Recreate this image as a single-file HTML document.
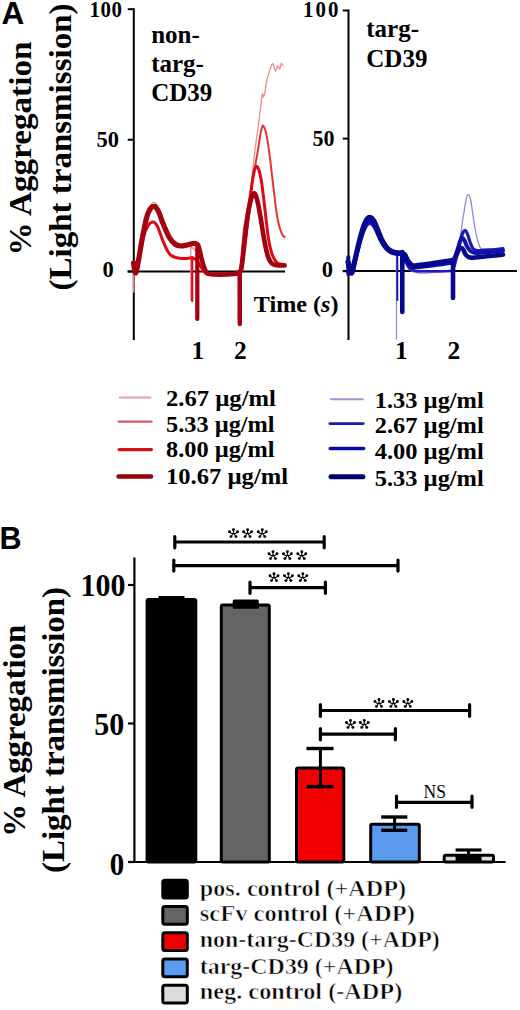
<!DOCTYPE html><html><head><meta charset="utf-8"><style>html,body{margin:0;padding:0;background:#fff;width:520px;height:1010px;overflow:hidden}svg{display:block}text{font-family:"Liberation Serif",serif;font-weight:bold;fill:#000}.sans{font-family:"Liberation Sans",sans-serif;font-weight:bold}</style></head><body>
<svg width="520" height="1010" viewBox="0 0 520 1010">
<rect width="520" height="1010" fill="#fff"/>
<text x="1.6" y="24.4" font-size="31.5" class="sans" >A</text>
<text transform="translate(31,148.6) rotate(-90)" x="0" y="0" font-size="32" text-anchor="middle" textLength="214" lengthAdjust="spacingAndGlyphs">% Aggregation</text>
<text transform="translate(70.8,147) rotate(-90)" x="0" y="0" font-size="32" text-anchor="middle" textLength="287" lengthAdjust="spacingAndGlyphs">(Light transmission)</text>
<line x1="133.8" y1="8.2" x2="133.8" y2="340" stroke="#000" stroke-width="2" stroke-linecap="butt"/>
<line x1="127.7" y1="9.2" x2="133.8" y2="9.2" stroke="#000" stroke-width="2" stroke-linecap="butt"/>
<line x1="127.7" y1="139.7" x2="133.8" y2="139.7" stroke="#000" stroke-width="2" stroke-linecap="butt"/>
<line x1="127.7" y1="271.5" x2="133.8" y2="271.5" stroke="#000" stroke-width="2" stroke-linecap="butt"/>
<line x1="127.7" y1="271.5" x2="285" y2="271.5" stroke="#000" stroke-width="2" stroke-linecap="butt"/>
<text transform="translate(122,17.3) scale(0.93,1)" x="0" y="0" font-size="22.5" text-anchor="end" textLength="34.95" lengthAdjust="spacing">100</text>
<text x="119" y="147" font-size="22.5" text-anchor="end" textLength="22.5" lengthAdjust="spacingAndGlyphs" >50</text>
<text x="113.8" y="277.4" font-size="22.5" text-anchor="end" >0</text>
<line x1="348.5" y1="9.5" x2="348.5" y2="340" stroke="#000" stroke-width="2" stroke-linecap="butt"/>
<line x1="342.8" y1="10.5" x2="348.5" y2="10.5" stroke="#000" stroke-width="2" stroke-linecap="butt"/>
<line x1="342.8" y1="138.6" x2="348.5" y2="138.6" stroke="#000" stroke-width="2" stroke-linecap="butt"/>
<line x1="342.8" y1="271.2" x2="348.5" y2="271.2" stroke="#000" stroke-width="2" stroke-linecap="butt"/>
<line x1="342.8" y1="271" x2="517" y2="271" stroke="#000" stroke-width="2" stroke-linecap="butt"/>
<text transform="translate(338.4,17.2) scale(0.93,1)" x="0" y="0" font-size="22.5" text-anchor="end" textLength="38.17" lengthAdjust="spacing">100</text>
<text x="334.5" y="146" font-size="22.5" text-anchor="end" textLength="22" lengthAdjust="spacingAndGlyphs" >50</text>
<text x="333" y="277.4" font-size="22.5" text-anchor="end" >0</text>
<text x="151.2" y="42.6" font-size="25" >non-</text>
<text x="151.2" y="72" font-size="25" >targ-</text>
<text x="151.2" y="101.4" font-size="25" >CD39</text>
<text x="366.3" y="37.2" font-size="25" >targ-</text>
<text x="366.3" y="67" font-size="25" >CD39</text>
<text x="253.8" y="312.3" font-size="24" textLength="84.7" lengthAdjust="spacingAndGlyphs">Time (<tspan font-style="italic">s</tspan>)</text>
<text x="191.5" y="358.6" font-size="25.5" >1</text>
<text x="234" y="358.6" font-size="25.5" >2</text>
<text x="395" y="358.9" font-size="25.5" >1</text>
<text x="447.5" y="358.9" font-size="25.5" >2</text>
<line x1="119.65" y1="397.5" x2="150.55" y2="397.5" stroke="#dca6ab" stroke-width="1.9" stroke-linecap="round"/>
<text x="166" y="406" font-size="24" textLength="109.8" lengthAdjust="spacingAndGlyphs" >2.67 µg/ml</text>
<line x1="118.65" y1="421.7" x2="151.54999999999998" y2="421.7" stroke="#d45a62" stroke-width="2.3" stroke-linecap="round"/>
<text x="166" y="431.5" font-size="24" textLength="108.6" lengthAdjust="spacingAndGlyphs" >5.33 µg/ml</text>
<line x1="119.15" y1="449.6" x2="151.35" y2="449.6" stroke="#d4101a" stroke-width="3.3" stroke-linecap="round"/>
<text x="166" y="457" font-size="24" textLength="108.6" lengthAdjust="spacingAndGlyphs" >8.00 µg/ml</text>
<line x1="118.6" y1="476.5" x2="151.0" y2="476.5" stroke="#960008" stroke-width="4.6" stroke-linecap="round"/>
<text x="166" y="483.8" font-size="24" textLength="122" lengthAdjust="spacingAndGlyphs" >10.67 µg/ml</text>
<line x1="330.95" y1="399.2" x2="362.85" y2="399.2" stroke="#9898d8" stroke-width="1.9" stroke-linecap="round"/>
<text x="374.8" y="407.9" font-size="24" textLength="108.9" lengthAdjust="spacingAndGlyphs" >1.33 µg/ml</text>
<line x1="329.8" y1="423.6" x2="363.3" y2="423.6" stroke="#1a1ab4" stroke-width="2.6" stroke-linecap="round"/>
<text x="374.8" y="432.9" font-size="24" textLength="108.9" lengthAdjust="spacingAndGlyphs" >2.67 µg/ml</text>
<line x1="330.3" y1="448.5" x2="363.59999999999997" y2="448.5" stroke="#0a0aaa" stroke-width="3.6" stroke-linecap="round"/>
<text x="374.8" y="458.8" font-size="24" textLength="108.9" lengthAdjust="spacingAndGlyphs" >4.00 µg/ml</text>
<line x1="331.0" y1="476.8" x2="362.9" y2="476.8" stroke="#00006e" stroke-width="5" stroke-linecap="round"/>
<text x="374.8" y="486.2" font-size="24" textLength="108.9" lengthAdjust="spacingAndGlyphs" >5.33 µg/ml</text>
<path d="M133.5,262.0 C133.8,263.7 134.8,272.2 135.6,272.0 C136.3,271.8 136.9,266.7 138.0,261.0 C139.1,255.3 140.6,245.7 142.0,238.0 C143.4,230.3 145.1,220.5 146.5,215.0 C147.9,209.5 149.1,207.1 150.5,205.0 C151.9,202.9 153.4,202.0 154.7,202.5 C156.0,203.0 157.1,205.1 158.5,208.0 C159.9,210.9 161.2,215.6 163.0,220.0 C164.8,224.4 167.5,230.9 169.6,234.5 C171.7,238.1 173.5,239.9 175.4,241.5 C177.3,243.1 179.1,243.3 181.0,244.0 C182.9,244.7 185.3,245.1 187.0,245.5 C188.7,245.9 190.3,246.3 191.0,246.5" fill="none" stroke="#ee8c8c" stroke-width="1.3" stroke-linejoin="round" stroke-linecap="round" />
<line x1="190.8" y1="246" x2="190.8" y2="300" stroke="#ee8c8c" stroke-width="1.3" stroke-linecap="round"/>
<line x1="133.8" y1="272" x2="133.8" y2="292" stroke="#ee8c8c" stroke-width="1.5" stroke-linecap="round"/>
<path d="M191.0,247.0 C191.7,247.5 193.5,248.2 195.0,250.0 C196.5,251.8 198.5,255.0 200.0,258.0 C201.5,261.0 202.7,265.4 204.0,268.0 C205.3,270.6 206.2,272.3 208.0,273.5 C209.8,274.7 210.3,274.8 215.0,275.0 C219.7,275.2 231.8,275.8 236.0,275.0 C240.2,274.2 238.8,272.8 240.0,270.0 C241.2,267.2 242.0,264.3 243.0,258.0 C244.0,251.7 244.8,242.2 246.0,232.0 C247.2,221.8 248.8,207.7 250.0,197.0 C251.2,186.3 252.1,176.5 253.0,168.0 C253.9,159.5 254.7,152.2 255.5,146.0 C256.3,139.8 256.8,137.1 257.7,130.7 C258.6,124.3 259.8,113.8 260.6,107.7 C261.4,101.6 261.8,95.8 262.3,94.0 C262.8,92.2 263.1,97.2 263.5,97.0 C263.9,96.8 264.2,95.8 264.8,93.0 C265.4,90.2 266.0,84.1 266.9,80.0 C267.8,75.9 269.4,71.2 270.4,68.5 C271.4,65.8 272.1,63.8 272.7,63.6 C273.3,63.4 273.7,66.2 274.2,67.5 C274.7,68.8 275.1,71.3 275.6,71.3 C276.1,71.3 276.5,68.4 277.0,67.5 C277.5,66.6 277.9,65.8 278.4,66.1 C278.8,66.3 279.2,69.4 279.7,69.0 C280.2,68.6 280.8,64.2 281.3,63.6 C281.9,63.0 282.7,65.3 283.0,65.6" fill="none" stroke="#ee8c8c" stroke-width="1.3" stroke-linejoin="round" stroke-linecap="round" />
<path d="M133.5,263.5 C133.8,265.2 134.8,273.5 135.6,273.5 C136.3,273.5 136.9,269.0 138.0,263.5 C139.1,258.0 140.6,248.0 142.0,240.5 C143.4,233.0 145.1,223.8 146.5,218.5 C147.9,213.2 149.1,210.9 150.5,209.0 C151.9,207.1 153.4,206.5 154.7,207.0 C156.0,207.5 157.1,209.2 158.5,212.0 C159.9,214.8 161.2,219.6 163.0,224.0 C164.8,228.4 167.5,235.0 169.6,238.5 C171.7,242.0 173.5,243.7 175.4,245.0 C177.3,246.3 179.1,246.4 181.0,246.5 C182.9,246.6 185.0,245.9 187.0,245.5 C189.0,245.1 191.4,244.2 193.0,244.0 C194.6,243.8 195.9,244.4 196.5,244.5" fill="none" stroke="#e63232" stroke-width="2" stroke-linejoin="round" stroke-linecap="round" />
<path d="M196.5,244.5 C196.8,244.8 197.8,244.1 198.5,246.0 C199.2,247.9 200.1,252.5 201.0,256.0 C201.9,259.5 202.9,264.1 204.0,267.0 C205.1,269.9 205.7,272.2 207.5,273.5 C209.3,274.8 212.1,274.3 215.0,274.5 C217.9,274.7 221.8,274.6 225.0,274.5 C228.2,274.4 231.8,274.2 234.0,274.0 C236.2,273.8 237.5,273.7 238.5,273.0 C239.5,272.3 239.4,273.8 240.0,270.0 C240.6,266.2 241.3,256.8 242.0,250.0 C242.7,243.2 243.1,235.8 244.0,229.0 C244.9,222.2 246.4,215.3 247.5,209.0 C248.6,202.7 249.5,197.3 250.6,191.0 C251.7,184.7 253.0,177.6 254.2,171.0 C255.4,164.4 256.7,157.7 257.7,151.7 C258.7,145.7 259.6,139.0 260.3,135.0 C261.0,131.0 261.5,129.0 262.0,127.5 C262.5,126.0 262.6,125.2 263.2,125.8 C263.8,126.4 264.8,128.0 265.6,131.0 C266.4,134.0 267.3,139.2 268.0,143.7 C268.7,148.2 269.3,152.7 270.0,158.0 C270.7,163.3 271.3,169.7 272.0,175.4 C272.7,181.1 273.3,186.5 274.0,192.0 C274.7,197.5 275.3,203.8 276.0,208.6 C276.7,213.4 277.2,217.3 278.0,221.0 C278.8,224.7 279.9,228.5 280.7,230.8 C281.4,233.1 281.9,233.9 282.5,235.0 C283.1,236.1 284.2,236.8 284.6,237.1" fill="none" stroke="#e63232" stroke-width="2" stroke-linejoin="round" stroke-linecap="round" />
<path d="M133.5,265.0 C133.9,266.2 135.0,273.7 136.0,272.0 C137.0,270.3 138.2,261.2 139.5,255.0 C140.8,248.8 142.5,240.0 144.0,235.0 C145.5,230.0 146.9,227.2 148.5,225.0 C150.1,222.8 151.9,221.9 153.3,222.0 C154.7,222.1 155.9,223.7 157.0,225.5 C158.1,227.3 159.0,230.4 160.0,233.0 C161.0,235.6 162.0,238.6 163.0,241.0 C164.0,243.4 164.9,245.6 165.8,247.5 C166.7,249.4 167.6,251.2 168.5,252.5 C169.4,253.8 170.2,254.8 171.5,255.6 C172.8,256.4 174.6,257.1 176.0,257.5 C177.4,257.9 178.5,258.1 180.0,258.3 C181.5,258.5 183.3,258.6 185.0,258.5 C186.7,258.4 188.8,258.1 190.0,258.0 C191.2,257.9 191.7,258.0 192.0,258.0" fill="none" stroke="#e00812" stroke-width="3" stroke-linejoin="round" stroke-linecap="round" />
<line x1="192.2" y1="257" x2="192.2" y2="301" stroke="#e00812" stroke-width="2.2" stroke-linecap="round"/>
<path d="M192.5,258.0 C192.9,258.2 194.1,258.3 195.0,259.0 C195.9,259.7 197.0,260.7 198.0,262.0 C199.0,263.3 199.8,265.2 201.0,267.0 C202.2,268.8 203.5,271.2 205.0,272.5 C206.5,273.8 204.8,274.2 210.0,274.5 C215.2,274.8 231.1,274.6 236.0,274.2 C240.9,273.8 238.5,274.0 239.5,272.0 C240.5,270.0 241.1,267.0 242.0,262.0 C242.9,257.0 243.8,250.7 245.0,242.0 C246.2,233.3 247.8,219.7 249.0,210.0 C250.2,200.3 251.1,190.7 252.0,184.0 C252.9,177.3 253.7,172.9 254.5,170.0 C255.3,167.1 256.1,166.2 256.9,166.5 C257.7,166.8 258.7,169.2 259.5,172.0 C260.3,174.8 260.9,178.2 261.7,183.0 C262.4,187.8 263.2,194.5 264.0,201.0 C264.8,207.5 265.6,215.7 266.4,222.0 C267.1,228.3 267.7,234.1 268.5,239.0 C269.3,243.9 270.3,248.2 271.2,251.4 C272.1,254.7 273.0,256.6 274.0,258.5 C275.0,260.4 276.0,261.6 277.0,262.5 C278.0,263.4 278.7,263.7 280.0,264.0 C281.3,264.3 283.8,264.4 284.6,264.5" fill="none" stroke="#e00812" stroke-width="3" stroke-linejoin="round" stroke-linecap="round" />
<line x1="239.3" y1="274" x2="239.3" y2="318" stroke="#e00812" stroke-width="3" stroke-linecap="round"/>
<path d="M133.5,263.0 C133.8,264.7 134.8,273.0 135.6,273.0 C136.3,273.0 136.9,268.5 138.0,263.0 C139.1,257.5 140.6,247.5 142.0,240.0 C143.4,232.5 145.1,223.2 146.5,218.0 C147.9,212.8 149.1,210.4 150.5,208.5 C151.9,206.6 153.4,206.0 154.7,206.5 C156.0,207.0 157.1,208.7 158.5,211.5 C159.9,214.3 161.2,219.1 163.0,223.5 C164.8,227.9 167.5,234.5 169.6,238.0 C171.7,241.5 173.5,243.2 175.4,244.5 C177.3,245.8 179.1,245.9 181.0,246.0 C182.9,246.1 185.0,245.4 187.0,245.0 C189.0,244.6 191.4,243.7 193.0,243.5 C194.6,243.3 195.9,243.9 196.5,244.0" fill="none" stroke="#a5000f" stroke-width="5.2" stroke-linejoin="round" stroke-linecap="round" />
<line x1="197.3" y1="244" x2="197.3" y2="319" stroke="#a5000f" stroke-width="4.2" stroke-linecap="round"/>
<path d="M197.3,245.0 C197.5,245.2 197.9,244.2 198.5,246.0 C199.1,247.8 200.1,252.5 201.0,256.0 C201.9,259.5 202.9,264.1 204.0,267.0 C205.1,269.9 205.7,272.2 207.5,273.5 C209.3,274.8 212.1,274.3 215.0,274.5 C217.9,274.7 221.8,274.6 225.0,274.5 C228.2,274.4 231.8,274.2 234.0,274.0 C236.2,273.8 237.6,273.3 238.5,273.0 C239.4,272.7 239.3,272.2 239.5,272.0" fill="none" stroke="#a5000f" stroke-width="4.6" stroke-linejoin="round" stroke-linecap="round" />
<line x1="239.8" y1="272" x2="239.8" y2="324" stroke="#a5000f" stroke-width="4.4" stroke-linecap="round"/>
<path d="M239.8,273.0 C240.1,272.2 240.9,271.5 241.5,268.0 C242.1,264.5 242.8,258.2 243.5,252.0 C244.2,245.8 245.1,237.3 245.8,231.0 C246.6,224.7 247.2,219.0 248.0,214.0 C248.8,209.0 249.7,204.4 250.6,201.0 C251.5,197.6 252.8,194.3 253.7,193.5 C254.6,192.7 255.2,193.9 256.0,196.0 C256.8,198.1 257.7,202.0 258.5,206.0 C259.3,210.0 260.2,215.3 261.0,220.0 C261.8,224.7 262.4,229.3 263.2,234.0 C264.0,238.7 265.0,244.2 265.8,248.0 C266.6,251.8 267.3,254.3 268.0,256.5 C268.7,258.7 269.2,259.8 270.0,261.0 C270.8,262.2 271.5,263.3 272.7,264.0 C273.9,264.7 275.0,265.1 277.0,265.3 C279.0,265.6 283.3,265.5 284.6,265.5" fill="none" stroke="#a5000f" stroke-width="4.6" stroke-linejoin="round" stroke-linecap="round" />
<path d="M348.0,262.0 C348.6,264.0 350.4,273.9 351.5,274.1 C352.6,274.3 353.5,266.9 354.5,263.1 C355.5,259.3 356.4,255.3 357.5,251.4 C358.6,247.6 359.8,243.4 361.0,240.1 C362.2,236.7 363.4,233.5 364.5,231.1 C365.6,228.8 366.5,227.0 367.5,226.0 C368.5,225.0 369.5,224.7 370.5,225.0 C371.5,225.3 372.4,226.4 373.5,228.0 C374.6,229.6 375.8,232.0 377.0,234.4 C378.2,236.8 379.6,240.1 381.0,242.5 C382.4,244.9 384.0,247.3 385.5,249.0 C387.0,250.7 388.4,251.8 390.0,252.7 C391.6,253.5 393.3,253.9 395.0,254.3 C396.7,254.6 398.7,254.4 400.0,254.7 C401.3,255.0 402.0,254.6 403.0,256.0 C404.0,257.4 404.8,260.7 406.0,263.0 C407.2,265.3 408.3,268.4 410.0,270.0 C411.7,271.6 413.5,272.0 416.0,272.5 C418.5,273.0 421.0,273.1 425.0,273.0 C429.0,272.9 435.5,272.3 440.0,272.0 C444.5,271.7 450.0,271.2 452.0,271.0" fill="none" stroke="#8c8cdc" stroke-width="1.3" stroke-linejoin="round" stroke-linecap="round" />
<line x1="396.5" y1="253" x2="396.5" y2="339" stroke="#8c8cdc" stroke-width="1.3" stroke-linecap="round"/>
<path d="M452.0,271.0 C452.3,270.2 453.2,268.7 454.0,266.0 C454.8,263.3 456.0,259.7 457.0,255.0 C458.0,250.3 458.9,244.7 460.0,238.0 C461.1,231.3 462.4,221.7 463.5,215.0 C464.6,208.3 465.7,201.4 466.5,198.0 C467.3,194.6 467.8,194.4 468.5,194.6 C469.2,194.8 469.8,196.1 470.5,199.0 C471.2,201.9 471.8,207.2 472.5,212.0 C473.2,216.8 474.1,223.0 475.0,228.0 C475.9,233.0 477.0,238.6 478.0,242.0 C479.0,245.4 479.7,247.2 481.0,248.5 C482.3,249.8 483.7,249.4 486.0,249.5 C488.3,249.6 492.2,249.2 495.0,249.0 C497.8,248.8 501.7,248.6 503.0,248.5" fill="none" stroke="#8c8cdc" stroke-width="1.3" stroke-linejoin="round" stroke-linecap="round" />
<path d="M348.0,262.0 C348.6,264.0 350.4,273.8 351.5,273.9 C352.6,274.0 353.5,266.7 354.5,262.9 C355.5,259.1 356.4,254.9 357.5,250.9 C358.6,247.0 359.8,242.6 361.0,239.1 C362.2,235.5 363.4,232.1 364.5,229.7 C365.6,227.3 366.5,225.5 367.5,224.5 C368.5,223.5 369.5,223.2 370.5,223.5 C371.5,223.8 372.4,224.9 373.5,226.5 C374.6,228.1 375.8,230.6 377.0,233.1 C378.2,235.6 379.6,239.0 381.0,241.6 C382.4,244.2 384.0,246.6 385.5,248.4 C387.0,250.2 388.4,251.3 390.0,252.2 C391.6,253.1 393.3,253.6 395.0,253.9 C396.7,254.3 398.7,254.0 400.0,254.3 C401.3,254.7 402.0,254.6 403.0,256.0 C404.0,257.4 404.8,260.8 406.0,263.0 C407.2,265.2 408.3,267.7 410.0,269.0 C411.7,270.3 412.7,270.6 416.0,271.0 C419.3,271.4 424.0,271.3 430.0,271.3 C436.0,271.3 448.3,271.1 452.0,271.0" fill="none" stroke="#1c1cb4" stroke-width="2.6" stroke-linejoin="round" stroke-linecap="round" />
<line x1="397.3" y1="253" x2="397.3" y2="300" stroke="#1c1cb4" stroke-width="2" stroke-linecap="round"/>
<path d="M452.5,270.0 C452.8,269.2 453.8,267.5 454.5,265.0 C455.2,262.5 456.1,258.8 457.0,255.0 C457.9,251.2 459.0,245.8 460.0,242.0 C461.0,238.2 462.1,234.4 463.0,232.5 C463.9,230.6 464.6,230.2 465.4,230.5 C466.1,230.8 466.7,232.1 467.5,234.0 C468.3,235.9 469.1,239.6 470.0,242.0 C470.9,244.4 471.8,247.1 473.0,248.5 C474.2,249.9 475.0,250.2 477.0,250.5 C479.0,250.8 482.0,250.2 485.0,250.0 C488.0,249.8 492.0,249.8 495.0,249.5 C498.0,249.2 501.7,248.7 503.0,248.5" fill="none" stroke="#1c1cb4" stroke-width="3.2" stroke-linejoin="round" stroke-linecap="round" />
<path d="M348.0,262.0 C348.6,263.9 350.4,273.4 351.5,273.5 C352.6,273.6 353.5,266.4 354.5,262.5 C355.5,258.6 356.4,254.3 357.5,250.1 C358.6,245.9 359.8,241.2 361.0,237.4 C362.2,233.6 363.4,229.9 364.5,227.3 C365.6,224.8 366.5,223.1 367.5,222.0 C368.5,220.9 369.5,220.7 370.5,221.0 C371.5,221.3 372.4,222.3 373.5,224.0 C374.6,225.7 375.8,228.3 377.0,231.0 C378.2,233.7 379.6,237.4 381.0,240.1 C382.4,242.8 384.0,245.5 385.5,247.4 C387.0,249.3 388.4,250.5 390.0,251.5 C391.6,252.5 393.3,253.0 395.0,253.3 C396.7,253.7 399.2,253.7 400.0,253.8" fill="none" stroke="#1010aa" stroke-width="4.5" stroke-linejoin="round" stroke-linecap="round" />
<path d="M400.0,253.5 C400.5,253.7 401.8,253.2 403.0,254.5 C404.2,255.8 405.5,258.9 407.0,261.0 C408.5,263.1 409.8,266.0 412.0,267.0 C414.2,268.0 415.3,267.2 420.0,266.8 C424.7,266.4 434.7,265.2 440.0,264.5 C445.3,263.8 450.0,262.8 452.0,262.5" fill="none" stroke="#1010aa" stroke-width="4.2" stroke-linejoin="round" stroke-linecap="round" />
<path d="M452.5,262.0 C452.9,261.2 454.1,259.3 455.0,257.0 C455.9,254.7 457.1,250.8 458.0,248.0 C458.9,245.2 459.8,241.7 460.5,240.0 C461.2,238.3 461.8,237.9 462.5,238.0 C463.2,238.1 463.8,239.1 464.5,240.5 C465.2,241.9 465.9,244.7 467.0,246.5 C468.1,248.3 469.5,250.4 471.0,251.5 C472.5,252.6 473.7,252.8 476.0,253.0 C478.3,253.2 481.8,252.8 485.0,252.5 C488.2,252.2 492.0,251.8 495.0,251.5 C498.0,251.2 501.7,250.7 503.0,250.5" fill="none" stroke="#1010aa" stroke-width="4" stroke-linejoin="round" stroke-linecap="round" />
<path d="M348.0,262.0 C348.6,263.8 350.4,273.0 351.5,273.0 C352.6,273.0 353.5,266.0 354.5,262.0 C355.5,258.0 356.4,253.5 357.5,249.0 C358.6,244.5 359.8,239.2 361.0,235.0 C362.2,230.8 363.4,226.8 364.5,224.0 C365.6,221.2 366.5,219.6 367.5,218.5 C368.5,217.4 369.5,217.2 370.5,217.5 C371.5,217.8 372.4,218.8 373.5,220.5 C374.6,222.2 375.8,225.1 377.0,228.0 C378.2,230.9 379.6,235.0 381.0,238.0 C382.4,241.0 384.0,243.9 385.5,246.0 C387.0,248.1 388.4,249.4 390.0,250.5 C391.6,251.6 393.3,252.1 395.0,252.5 C396.7,252.9 399.2,252.9 400.0,253.0" fill="none" stroke="#08088e" stroke-width="5.2" stroke-linejoin="round" stroke-linecap="round" />
<line x1="402.3" y1="252" x2="402.3" y2="312" stroke="#08088e" stroke-width="4.6" stroke-linecap="round"/>
<path d="M402.3,253.0 C402.8,253.3 404.1,253.7 405.0,255.0 C405.9,256.3 406.8,259.2 408.0,261.0 C409.2,262.8 410.5,264.8 412.5,265.5 C414.5,266.2 416.2,265.4 420.0,265.0 C423.8,264.6 429.7,263.8 435.0,263.0 C440.3,262.2 449.2,260.9 452.0,260.5" fill="none" stroke="#08088e" stroke-width="5" stroke-linejoin="round" stroke-linecap="round" />
<line x1="453" y1="261" x2="453" y2="298" stroke="#08088e" stroke-width="4.6" stroke-linecap="round"/>
<path d="M453.0,261.0 C453.5,260.2 455.1,257.8 456.0,256.0 C456.9,254.2 457.7,251.4 458.5,250.0 C459.3,248.6 460.2,247.7 461.0,247.7 C461.8,247.7 462.7,248.8 463.5,250.0 C464.3,251.2 464.9,253.8 466.0,255.0 C467.1,256.2 468.3,257.1 470.0,257.5 C471.7,257.9 473.5,257.7 476.0,257.5 C478.5,257.3 481.8,256.8 485.0,256.5 C488.2,256.2 492.0,255.8 495.0,255.5 C498.0,255.2 501.7,254.8 503.0,254.6" fill="none" stroke="#08088e" stroke-width="4.6" stroke-linejoin="round" stroke-linecap="round" />
<line x1="348.3" y1="257" x2="348.3" y2="274" stroke="#08088e" stroke-width="4" stroke-linecap="round"/>
<text x="-0.6" y="549.2" font-size="30.5" class="sans" >B</text>
<text transform="translate(24.8,730.8) rotate(-90)" x="0" y="0" font-size="32" text-anchor="middle" textLength="212" lengthAdjust="spacingAndGlyphs">% Aggregation</text>
<text transform="translate(63.5,730) rotate(-90)" x="0" y="0" font-size="32" text-anchor="middle" textLength="286" lengthAdjust="spacingAndGlyphs">(Light transmission)</text>
<line x1="134.4" y1="557.5" x2="134.4" y2="863" stroke="#000" stroke-width="2.2" stroke-linecap="butt"/>
<line x1="128" y1="585" x2="134.4" y2="585" stroke="#000" stroke-width="2.2" stroke-linecap="butt"/>
<line x1="128" y1="723.5" x2="134.4" y2="723.5" stroke="#000" stroke-width="2.2" stroke-linecap="butt"/>
<line x1="128" y1="862" x2="134.4" y2="862" stroke="#000" stroke-width="2.2" stroke-linecap="butt"/>
<line x1="128" y1="862" x2="505.6" y2="862" stroke="#000" stroke-width="2.2" stroke-linecap="butt"/>
<text x="125.6" y="595.8" font-size="32" text-anchor="end" textLength="45" lengthAdjust="spacingAndGlyphs" >100</text>
<text x="124.2" y="734.5" font-size="32" text-anchor="end" textLength="30" lengthAdjust="spacingAndGlyphs" >50</text>
<text x="124.2" y="874.8" font-size="32" text-anchor="end" textLength="14.5" lengthAdjust="spacingAndGlyphs" >0</text>
<rect x="147.1" y="599.5" width="48.70000000000002" height="262.5" fill="#000" stroke="#000" stroke-width="3" rx="1.5"/>
<rect x="221.3" y="605.0" width="48.0" height="257.0" fill="#646464" stroke="#000" stroke-width="3" rx="1.5"/>
<rect x="296.5" y="768.0" width="47.30000000000001" height="94.0" fill="#f00000" stroke="#000" stroke-width="3" rx="1.5"/>
<rect x="370.7" y="824.2" width="48.60000000000002" height="37.799999999999955" fill="#5a9bf0" stroke="#000" stroke-width="3" rx="1.5"/>
<rect x="444.2" y="855.2" width="49.30000000000001" height="6.7999999999999545" fill="#dcdcdc" stroke="#000" stroke-width="3" rx="1.5"/>
<rect x="158.5" y="596" width="26" height="4" fill="#000"/>
<rect x="232.7" y="599.6" width="26.1" height="9.2" fill="#000" rx="1.5"/>
<line x1="320.4" y1="748.5" x2="320.4" y2="786.6" stroke="#000" stroke-width="3" stroke-linecap="butt"/>
<line x1="306.5" y1="748.5" x2="333.5" y2="748.5" stroke="#000" stroke-width="3.4" stroke-linecap="butt"/>
<line x1="306.5" y1="786.6" x2="333.5" y2="786.6" stroke="#000" stroke-width="3.4" stroke-linecap="butt"/>
<line x1="394.6" y1="817" x2="394.6" y2="830.3" stroke="#000" stroke-width="3" stroke-linecap="butt"/>
<line x1="381.2" y1="817" x2="407.3" y2="817" stroke="#000" stroke-width="3.4" stroke-linecap="butt"/>
<line x1="381.2" y1="830.3" x2="407.3" y2="830.3" stroke="#000" stroke-width="3.4" stroke-linecap="butt"/>
<line x1="455.6" y1="850" x2="481.5" y2="850" stroke="#000" stroke-width="3.2" stroke-linecap="butt"/>
<rect x="455.6" y="855.5" width="26" height="6" fill="#000"/>
<line x1="468.5" y1="850" x2="468.5" y2="856" stroke="#000" stroke-width="3" stroke-linecap="butt"/>
<line x1="174.8" y1="542" x2="324.2" y2="542" stroke="#000" stroke-width="3.2" stroke-linecap="butt"/>
<line x1="174.8" y1="536.7" x2="174.8" y2="547.8" stroke="#000" stroke-width="3.2" stroke-linecap="round"/>
<line x1="324.2" y1="536.7" x2="324.2" y2="547.8" stroke="#000" stroke-width="3.2" stroke-linecap="round"/>
<line x1="173.8" y1="565.6" x2="398" y2="565.6" stroke="#000" stroke-width="3.2" stroke-linecap="butt"/>
<line x1="173.8" y1="560.0" x2="173.8" y2="571.0999999999999" stroke="#000" stroke-width="3.2" stroke-linecap="round"/>
<line x1="398" y1="560.0" x2="398" y2="571.0999999999999" stroke="#000" stroke-width="3.2" stroke-linecap="round"/>
<line x1="250" y1="587.7" x2="325.4" y2="587.7" stroke="#000" stroke-width="3.2" stroke-linecap="butt"/>
<line x1="250" y1="582.2" x2="250" y2="593.3" stroke="#000" stroke-width="3.2" stroke-linecap="round"/>
<line x1="325.4" y1="582.2" x2="325.4" y2="593.3" stroke="#000" stroke-width="3.2" stroke-linecap="round"/>
<line x1="320.4" y1="710.5" x2="469.6" y2="710.5" stroke="#000" stroke-width="3.2" stroke-linecap="butt"/>
<line x1="320.4" y1="704.7" x2="320.4" y2="716.3" stroke="#000" stroke-width="3.2" stroke-linecap="round"/>
<line x1="469.6" y1="704.7" x2="469.6" y2="716.3" stroke="#000" stroke-width="3.2" stroke-linecap="round"/>
<line x1="320.4" y1="734.2" x2="395.4" y2="734.2" stroke="#000" stroke-width="3.2" stroke-linecap="butt"/>
<line x1="320.4" y1="728.7" x2="320.4" y2="739.8" stroke="#000" stroke-width="3.2" stroke-linecap="round"/>
<line x1="395.4" y1="728.7" x2="395.4" y2="739.8" stroke="#000" stroke-width="3.2" stroke-linecap="round"/>
<line x1="396.5" y1="802.4" x2="472" y2="802.4" stroke="#000" stroke-width="3.2" stroke-linecap="butt"/>
<line x1="396.5" y1="796.0" x2="396.5" y2="807.3" stroke="#000" stroke-width="3.2" stroke-linecap="round"/>
<line x1="472" y1="796.0" x2="472" y2="807.3" stroke="#000" stroke-width="3.2" stroke-linecap="round"/>
<defs><g id="ast"><path d="M0,0 L0,-3.4 M0,0 C-1.2,1.2 -2.8,0.3 -4,-1.3 M0,0 C1.2,1.2 2.8,0.3 4,-1.3 M0,0 L-2.5,3.7 M0,0 L2.5,3.7" fill="none" stroke="#000" stroke-width="1.1"/><circle cx="0" cy="-3.3" r="1.45"/><circle cx="-4" cy="-1.3" r="1.45"/><circle cx="4" cy="-1.3" r="1.45"/><circle cx="-2.5" cy="3.6" r="1.45"/><circle cx="2.5" cy="3.6" r="1.45"/></g></defs>
<use href="#ast" x="233.5" y="533"/>
<use href="#ast" x="247.6" y="533"/>
<use href="#ast" x="262.3" y="533"/>
<use href="#ast" x="273" y="555"/>
<use href="#ast" x="287.4" y="555"/>
<use href="#ast" x="301.8" y="555"/>
<use href="#ast" x="274" y="577"/>
<use href="#ast" x="288.4" y="577"/>
<use href="#ast" x="302.8" y="577"/>
<use href="#ast" x="379" y="702.8"/>
<use href="#ast" x="393.4" y="702.8"/>
<use href="#ast" x="407.8" y="702.8"/>
<use href="#ast" x="350.5" y="723.8"/>
<use href="#ast" x="364.3" y="723.8"/>
<text x="423.5" y="798" font-size="18" textLength="22.4" lengthAdjust="spacingAndGlyphs" style="font-weight:normal;" >NS</text>
<rect x="162.8" y="880.3" width="24.5" height="17.7" fill="#000" stroke="#000" stroke-width="3" rx="2"/>
<rect x="162.8" y="906.5" width="24.5" height="17.7" fill="#646464" stroke="#000" stroke-width="3" rx="2"/>
<rect x="162.8" y="932.8" width="24.5" height="17.7" fill="#f00000" stroke="#000" stroke-width="3" rx="2"/>
<rect x="162.8" y="959.0" width="24.5" height="17.7" fill="#5a9bf0" stroke="#000" stroke-width="3" rx="2"/>
<rect x="162.8" y="985.3" width="24.5" height="17.7" fill="#dcdcdc" stroke="#000" stroke-width="3" rx="2"/>
<text x="199.8" y="896.2" font-size="24" textLength="206.3" lengthAdjust="spacingAndGlyphs" stroke="#fff" stroke-width="0.6">pos. control (+ADP)</text>
<text x="199.8" y="921.2" font-size="24" textLength="215" lengthAdjust="spacingAndGlyphs" stroke="#fff" stroke-width="0.6">scFv control (+ADP)</text>
<text x="199.8" y="947.3" font-size="24" textLength="240" lengthAdjust="spacingAndGlyphs" stroke="#fff" stroke-width="0.6">non-targ-CD39 (+ADP)</text>
<text x="199.8" y="974" font-size="24" textLength="193.8" lengthAdjust="spacingAndGlyphs" stroke="#fff" stroke-width="0.6">targ-CD39 (+ADP)</text>
<text x="199.8" y="999.3" font-size="24" textLength="202.5" lengthAdjust="spacingAndGlyphs" stroke="#fff" stroke-width="0.6">neg. control (-ADP)</text>
</svg></body></html>
